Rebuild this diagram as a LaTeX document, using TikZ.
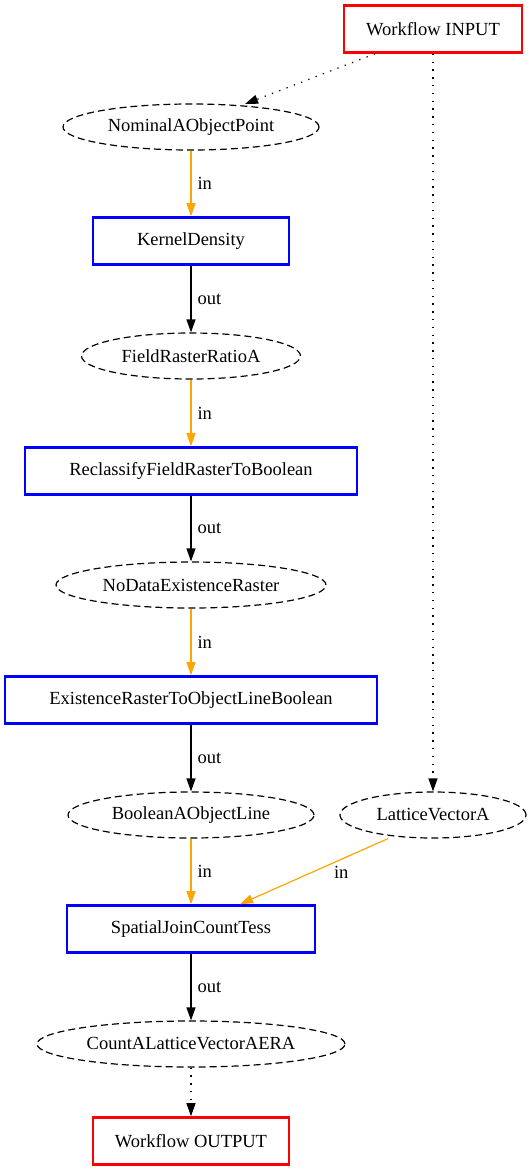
\documentclass[tikz,border=0pt]{standalone}
\usepackage{fontspec}
\setmainfont{Liberation Serif}
\usetikzlibrary{arrows.meta,shapes.geometric}
\definecolor{gvorange}{RGB}{255,165,0}
\newcommand{\gvfont}{\fontsize{18.5pt}{21pt}\selectfont}
\tikzset{
  x=1pt,y=-1pt,
  io/.style={draw=red,line width=2.6pt,minimum height=47pt,inner sep=0pt,font=\gvfont},
  proc/.style={draw=blue,line width=2.6pt,minimum height=47pt,inner sep=0pt,font=\gvfont},
  data/.style={draw,ellipse,dash pattern=on 7pt off 4pt,line width=1.2pt,minimum height=46pt,inner sep=0pt,font=\gvfont},
  arr/.style={-{Triangle[length=13pt,width=9pt]},line width=1.2pt},
  inedge/.style={arr,draw=gvorange},
  outedge/.style={arr,draw=black},
  ctrl/.style={arr,dash pattern=on 1.3pt off 6.5pt},
  lbl/.style={anchor=west,inner sep=0pt,font=\gvfont,text=black}
}
\begin{document}
\begin{tikzpicture}[font=\gvfont]
\useasboundingbox (0,0) rectangle (532,1171);
\node[io,minimum width=178pt] (in) at (433,29) {Workflow INPUT};
\node[data,minimum width=256pt] (nom) at (191,127) {NominalAObjectPoint};
\node[proc,minimum width=196pt] (kd) at (191,241) {KernelDensity};
\node[data,minimum width=219pt] (frr) at (191,356) {FieldRasterRatioA};
\node[proc,minimum width=332pt] (rec) at (191,471) {ReclassifyFieldRasterToBoolean};
\node[data,minimum width=270pt] (nde) at (191,585) {NoDataExistenceRaster};
\node[proc,minimum width=372pt] (ext) at (191,700) {ExistenceRasterToObjectLineBoolean};
\node[data,minimum width=246pt] (bol) at (191,815) {BooleanAObjectLine};
\node[data,minimum width=186pt] (lat) at (433,815) {LatticeVectorA};
\node[proc,minimum width=248pt] (sj) at (191,929) {SpatialJoinCountTess};
\node[data,minimum width=308pt] (cnt) at (191,1044) {CountALatticeVectorAERA};
\node[io,minimum width=196pt] (out) at (191,1141) {Workflow OUTPUT};

\draw[ctrl] (in.south -| 375,0) -- (245,104);
\draw[ctrl] (in.south) -- (lat.north);
\draw[inedge] (nom) -- node[lbl,xshift=6pt] {in} (kd);
\draw[outedge] (kd) -- node[lbl,xshift=6pt] {out} (frr);
\draw[inedge] (frr) -- node[lbl,xshift=6pt] {in} (rec);
\draw[outedge] (rec) -- node[lbl,xshift=6pt] {out} (nde);
\draw[inedge] (nde) -- node[lbl,xshift=6pt] {in} (ext);
\draw[outedge] (ext) -- node[lbl,xshift=6pt] {out} (bol);
\draw[inedge] (bol) -- node[lbl,xshift=6pt] {in} (sj);
\draw[inedge] (lat.south -| 388,0) -- node[pos=0.45,lbl,xshift=12pt,yshift=-4pt] {in} (sj.north -| 240,0);
\draw[outedge] (sj) -- node[lbl,xshift=6pt] {out} (cnt);
\draw[ctrl] (cnt) -- (out);
\end{tikzpicture}
\end{document}
